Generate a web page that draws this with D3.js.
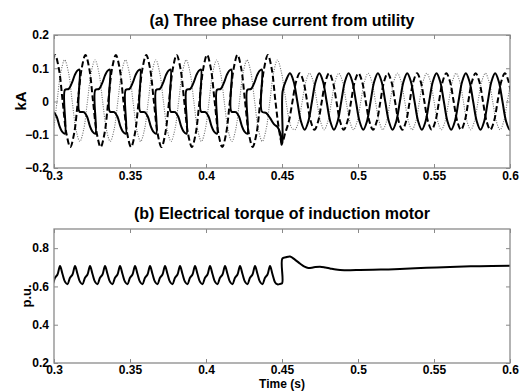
<!DOCTYPE html>
<html>
<head>
<meta charset="utf-8">
<script src="https://cdn.jsdelivr.net/npm/d3@7"></script>
<style>
body{margin:0;background:#fff;}
svg text{font-family:Arial,"Liberation Sans",sans-serif;font-weight:bold;fill:#000;}
</style>
</head>
<body>
<svg id="fig" width="522" height="391"></svg>
<script>
// ---- data ----
var xTicks = [0.3, 0.35, 0.4, 0.45, 0.5, 0.55, 0.6];
var xTickLabels = ["0.3", "0.35", "0.4", "0.45", "0.5", "0.55", "0.6"];
var yTicksA = [-0.2, -0.1, 0, 0.1, 0.2];
var yTicksB = [0.2, 0.4, 0.6, 0.8];

// phase current, solid trace (kA), distorted part before the switch at 0.45 s
var solidPre = [
 [0.2967,0.095],[0.2967,-0.03],[0.2997,-0.032],[0.3017,-0.045],[0.3037,-0.075],[0.3052,-0.09],[0.3072,-0.097],
 [0.3072,0.035],[0.3097,0.038],[0.3117,0.055],[0.3137,0.08],[0.3152,0.092],[0.3167,0.096],
 [0.3167,-0.03],[0.3197,-0.032],[0.3217,-0.045],[0.3237,-0.075],[0.3252,-0.09],[0.3272,-0.097],
 [0.3272,0.035],[0.3297,0.038],[0.3317,0.055],[0.3337,0.08],[0.3352,0.092],[0.3367,0.096],
 [0.3367,-0.03],[0.3397,-0.032],[0.3417,-0.045],[0.3437,-0.075],[0.3452,-0.09],[0.3472,-0.097],
 [0.3472,0.035],[0.3497,0.038],[0.3517,0.055],[0.3537,0.08],[0.3552,0.092],[0.3567,0.096],
 [0.3567,-0.03],[0.3597,-0.032],[0.3617,-0.045],[0.3637,-0.075],[0.3652,-0.09],[0.3672,-0.097],
 [0.3672,0.035],[0.3697,0.038],[0.3717,0.055],[0.3737,0.08],[0.3752,0.092],[0.3767,0.096],
 [0.3767,-0.03],[0.3797,-0.032],[0.3817,-0.045],[0.3837,-0.075],[0.3852,-0.09],[0.3872,-0.097],
 [0.3872,0.035],[0.3897,0.038],[0.3917,0.055],[0.3937,0.08],[0.3952,0.092],[0.3967,0.096],
 [0.3967,-0.03],[0.3997,-0.032],[0.4017,-0.045],[0.4037,-0.075],[0.4052,-0.09],[0.4072,-0.097],
 [0.4072,0.035],[0.4097,0.038],[0.4117,0.055],[0.4137,0.08],[0.4152,0.092],[0.4167,0.096],
 [0.4167,-0.03],[0.4197,-0.032],[0.4217,-0.045],[0.4237,-0.075],[0.4252,-0.09],[0.4272,-0.097],
 [0.4272,0.035],[0.4297,0.038],[0.4317,0.055],[0.4337,0.08],[0.4352,0.092],[0.4367,0.096],
 [0.4367,-0.03],[0.4397,-0.035],[0.4422,-0.05],[0.4447,-0.068],[0.4472,-0.078],[0.4488,-0.095],
 [0.4497,-0.13],[0.4503,-0.12],[0.4504,0.03],[0.4528,0.065]
];
// sinusoidal part after 0.45 s, sampled every 0.00241 s from 0.45526 s
var solidPost = [
 0.085,0.06,0,-0.06,-0.085,-0.06,0,0.06,
 0.085,0.06,0,-0.06,-0.085,-0.06,0,0.06,
 0.085,0.06,0,-0.06,-0.085,-0.06,0,0.06,
 0.085,0.06,0,-0.06,-0.085,-0.06,0,0.06,
 0.085,0.06,0,-0.06,-0.085,-0.06,0,0.06,
 0.085,0.06,0,-0.06,-0.085,-0.06,0,0.06,
 0.085,0.06,0,-0.06,-0.085,-0.06,0,0.06,
 0.085,0.06,0,-0.06,-0.085,-0.06
];

// dashed trace, sampled every 0.0025 s from 0.2982 s
var dashedPre = [
 0.099,
 0.14,0.099,0,-0.097,-0.137,-0.097,0,0.099,
 0.14,0.099,0,-0.097,-0.137,-0.097,0,0.099,
 0.14,0.099,0,-0.097,-0.137,-0.097,0,0.099,
 0.14,0.099,0,-0.097,-0.137,-0.097,0,0.099,
 0.14,0.099,0,-0.097,-0.137,-0.097,0,0.099,
 0.14,0.099,0,-0.097,-0.137,-0.097,0,0.099,
 0.14,0.099,0,-0.097,-0.137,-0.097,0,0.099,
 0.14,0.099,0
];
var dashedMid = [[0.4482,-0.09],[0.45,-0.125],[0.4521,-0.095],[0.4545,-0.06],[0.4569,0],[0.4593,0.06]];
// after 0.45 s, every 0.00241 s from 0.46171 s
var dashedPost = [
 0.085,0.06,0,-0.06,-0.085,-0.06,0,0.06,
 0.085,0.06,0,-0.06,-0.085,-0.06,0,0.06,
 0.085,0.06,0,-0.06,-0.085,-0.06,0,0.06,
 0.085,0.06,0,-0.06,-0.085,-0.06,0,0.06,
 0.085,0.06,0,-0.06,-0.085,-0.06,0,0.06,
 0.085,0.06,0,-0.06,-0.085,-0.06,0,0.06,
 0.085,0.06,0,-0.06,-0.085,-0.06,0,0.06,
 0.085,0.06,0
];

// dotted trace, sampled every 0.0025 s from 0.297 s
var dottedPre = [
 -0.12,-0.085,0,0.088,0.125,0.088,0,-0.085,
 -0.12,-0.085,0,0.088,0.125,0.088,0,-0.085,
 -0.12,-0.085,0,0.088,0.125,0.088,0,-0.085,
 -0.12,-0.085,0,0.088,0.125,0.088,0,-0.085,
 -0.12,-0.085,0,0.088,0.125,0.088,0,-0.085,
 -0.12,-0.085,0,0.088,0.125,0.088,0,-0.085,
 -0.12,-0.085,0,0.088,0.125,0.088,0,-0.085,
 -0.12,-0.085,0,0.088,0.125
];
var dottedMid = [[0.4495,0.09],[0.452,0.02],[0.4545,-0.05],[0.4565,-0.08]];
// after 0.45 s, every 0.00241 s from 0.45847 s
var dottedPost = [
 -0.085,-0.06,0,0.06,0.085,0.06,0,-0.06,
 -0.085,-0.06,0,0.06,0.085,0.06,0,-0.06,
 -0.085,-0.06,0,0.06,0.085,0.06,0,-0.06,
 -0.085,-0.06,0,0.06,0.085,0.06,0,-0.06,
 -0.085,-0.06,0,0.06,0.085,0.06,0,-0.06,
 -0.085,-0.06,0,0.06,0.085,0.06,0,-0.06,
 -0.085,-0.06,0,0.06,0.085,0.06,0,-0.06,
 -0.085,-0.06,0,0.06
];

// electrical torque (p.u.), ripple sampled every 0.0016447 s from 0.29408 s
var torquePre = [
 0.707,0.665,0.624,0.612,0.645,0.662, 0.707,0.665,0.624,0.612,0.645,0.662,
 0.707,0.665,0.624,0.612,0.645,0.662, 0.707,0.665,0.624,0.612,0.645,0.662,
 0.707,0.665,0.624,0.612,0.645,0.662, 0.707,0.665,0.624,0.612,0.645,0.662,
 0.707,0.665,0.624,0.612,0.645,0.662, 0.707,0.665,0.624,0.612,0.645,0.662,
 0.707,0.665,0.624,0.612,0.645,0.662, 0.707,0.665,0.624,0.612,0.645,0.662,
 0.707,0.665,0.624,0.612,0.645,0.662, 0.707,0.665,0.624,0.612,0.645,0.662,
 0.707,0.665,0.624,0.612,0.645,0.662, 0.707,0.665,0.624,0.612,0.645,0.662,
 0.707,0.665,0.624,0.612,0.645,0.662,
 0.707
];
var torquePost = [
 [0.4437,0.665],[0.4454,0.622],[0.447,0.611],[0.4487,0.613],[0.4501,0.617],[0.4502,0.745],
 [0.4525,0.752],[0.4553,0.756],[0.4585,0.74],[0.4618,0.72],[0.4648,0.703],[0.4673,0.696],
 [0.471,0.7],[0.475,0.703],[0.4785,0.699],[0.4816,0.694],[0.4855,0.688],[0.4882,0.686],
 [0.495,0.685],[0.5013,0.686],[0.515,0.688],[0.5276,0.691],[0.545,0.697],[0.5605,0.702],
 [0.58,0.706],[0.6,0.708]
];

function grid(t0, step, vals) {
	return vals.map(function(v, i) { return [t0 + i * step, v]; });
}

var solidSeries = solidPre.concat(grid(0.45526, 0.00241, solidPost));
var dashedSeries = grid(0.2982, 0.0025, dashedPre).concat(dashedMid, grid(0.46171, 0.00241, dashedPost));
var dottedSeries = grid(0.297, 0.0025, dottedPre).concat(dottedMid, grid(0.45847, 0.00241, dottedPost));
var torqueSeries = grid(0.29408, 0.0016447, torquePre).concat(torquePost);

// ---- drawing ----
var svg = d3.select("#fig");
var axisColor = "#8a8a8a";
var left = 54, right = 510;

var x = d3.scaleLinear().domain([0.3, 0.6]).range([left, right]);
var yA = d3.scaleLinear().domain([-0.2, 0.2]).range([168, 35]);
var yB = d3.scaleLinear().domain([0.2, 0.9]).range([363, 229]);

function panel(id, y, yTicks, yFmt, pad) {
	var top = y.range()[1], bottom = y.range()[0];
	var g = svg.append("g").attr("class", "panel-" + id);

	g.append("clipPath").attr("id", "clip-" + id)
		.append("rect")
		.attr("x", left).attr("y", top)
		.attr("width", right - left).attr("height", bottom - top);

	g.append("g")
		.attr("transform", "translate(0," + bottom + ")")
		.call(d3.axisBottom(x).tickValues(xTicks)
			.tickFormat(function(d, i) { return xTickLabels[i]; })
			.tickSizeInner(-4).tickSizeOuter(0).tickPadding(pad))
		.call(style);

	g.append("g")
		.attr("transform", "translate(0," + top + ")")
		.call(d3.axisTop(x).tickValues(xTicks).tickFormat("").tickSizeInner(-4).tickSizeOuter(0))
		.call(style);

	g.append("g")
		.attr("transform", "translate(" + left + ",0)")
		.call(d3.axisLeft(y).tickValues(yTicks).tickFormat(yFmt)
			.tickSizeInner(-4).tickSizeOuter(0).tickPadding(5))
		.call(style);

	g.append("g")
		.attr("transform", "translate(" + right + ",0)")
		.call(d3.axisRight(y).tickValues(yTicks).tickFormat("").tickSizeInner(-4).tickSizeOuter(0))
		.call(style);

	return g;
}

function style(a) {
	a.select(".domain").remove();
	a.selectAll(".tick line").attr("stroke", axisColor);
	a.selectAll(".tick text")
		.attr("font-size", 12)
		.attr("font-family", "Arial, 'Liberation Sans', sans-serif")
		.attr("font-weight", "bold")
		.attr("fill", "#000");
}

function frame(g, y) {
	var top = y.range()[1], bottom = y.range()[0];
	g.append("rect")
		.attr("x", left).attr("y", top)
		.attr("width", right - left).attr("height", bottom - top)
		.attr("fill", "none")
		.attr("stroke", axisColor)
		.attr("stroke-width", 1.3);
}

// (a) currents
var gA = panel("a", yA, yTicksA, function(d) { return d === 0 ? "0" : d3.format(".1f")(d); }, 3);

var lineA = d3.line()
	.x(function(d) { return x(d[0]); })
	.y(function(d) { return yA(d[1]); })
	.curve(d3.curveCatmullRom.alpha(0.5));

var traces = gA.append("g").attr("clip-path", "url(#clip-a)");

traces.append("path")
	.datum(dottedSeries)
	.attr("d", lineA)
	.attr("fill", "none")
	.attr("stroke", "#6e6e6e")
	.attr("stroke-width", 1.1)
	.attr("stroke-dasharray", "1,1.4");

traces.append("path")
	.datum(dashedSeries)
	.attr("d", lineA)
	.attr("fill", "none")
	.attr("stroke", "#000")
	.attr("stroke-width", 2)
	.attr("stroke-dasharray", "6,3");

traces.append("path")
	.datum(solidSeries)
	.attr("d", lineA)
	.attr("fill", "none")
	.attr("stroke", "#000")
	.attr("stroke-width", 2);

frame(gA, yA);

// (b) torque
var gB = panel("b", yB, yTicksB, d3.format(".1f"), 2);

var lineB = d3.line()
	.x(function(d) { return x(d[0]); })
	.y(function(d) { return yB(d[1]); })
	.curve(d3.curveCatmullRom.alpha(0.5));

gB.append("g").attr("clip-path", "url(#clip-b)")
	.append("path")
	.datum(torqueSeries)
	.attr("d", lineB)
	.attr("fill", "none")
	.attr("stroke", "#000")
	.attr("stroke-width", 2);

frame(gB, yB);

// titles and labels
var mid = (left + right) / 2;
svg.append("text").attr("x", mid).attr("y", 26)
	.attr("text-anchor", "middle").attr("font-size", 16)
	.text("(a) Three phase current from utility");
svg.append("text").attr("x", mid).attr("y", 219)
	.attr("text-anchor", "middle").attr("font-size", 16)
	.text("(b) Electrical torque of induction motor");
svg.append("text").attr("transform", "translate(26,101) rotate(-90)")
	.attr("text-anchor", "middle").attr("font-size", 15)
	.text("kA");
svg.append("text").attr("transform", "translate(31,296) rotate(-90)")
	.attr("text-anchor", "middle").attr("font-size", 13)
	.text("p.u.");
svg.append("text").attr("x", mid).attr("y", 387.5)
	.attr("text-anchor", "middle").attr("font-size", 12)
	.text("Time (s)");
</script>
</body>
</html>
